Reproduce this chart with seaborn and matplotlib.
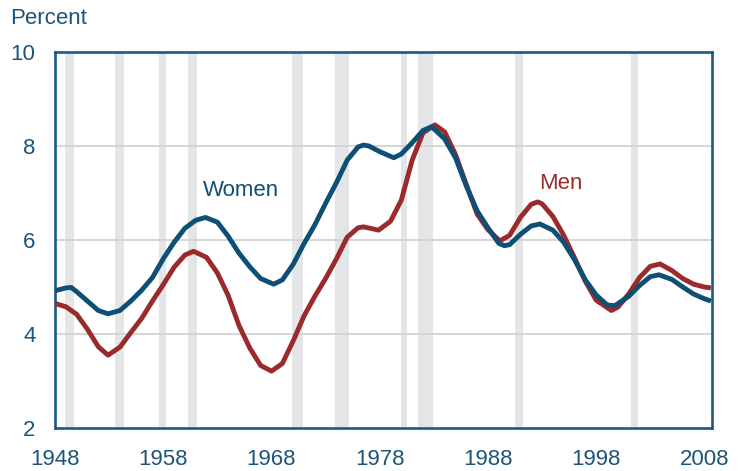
import matplotlib
matplotlib.use("Agg")
import matplotlib.pyplot as plt
import pandas as pd
import seaborn as sns

# Unemployment rate by sex, percent
women_years = [1948, 1949, 1949.5, 1950, 1951, 1952, 1952.9, 1954, 1955, 1956,
               1957, 1958, 1959, 1960, 1961, 1961.9, 1963, 1964, 1965, 1966,
               1967, 1968.2, 1969, 1970, 1971, 1972, 1973, 1974, 1975, 1976,
               1976.5, 1977, 1978, 1979.3, 1980, 1981, 1982, 1982.8, 1984, 1985,
               1986, 1987, 1988, 1989, 1989.5, 1990, 1991, 1992, 1992.8, 1994,
               1995, 1996, 1997, 1998, 1999, 1999.7, 2001, 2002, 2003, 2003.8,
               2005, 2006, 2007, 2008, 2008.6]
women = [4.92, 4.98, 4.99, 4.90, 4.70, 4.50, 4.43, 4.50, 4.70, 4.93,
         5.20, 5.60, 5.95, 6.25, 6.42, 6.48, 6.38, 6.08, 5.72, 5.43,
         5.18, 5.06, 5.15, 5.48, 5.92, 6.32, 6.78, 7.22, 7.70, 7.98,
         8.02, 8.00, 7.88, 7.75, 7.83, 8.07, 8.33, 8.41, 8.15, 7.75,
         7.15, 6.62, 6.26, 5.93, 5.88, 5.90, 6.12, 6.30, 6.34, 6.21,
         5.95, 5.58, 5.15, 4.83, 4.62, 4.60, 4.80, 5.03, 5.22, 5.26,
         5.16, 5.00, 4.85, 4.75, 4.70]

men_years = [1948, 1949, 1950, 1951, 1952, 1952.9, 1954, 1955, 1956, 1957,
             1958, 1959, 1960, 1960.8, 1962, 1963, 1964, 1965, 1966, 1967,
             1968, 1969, 1970, 1971, 1972, 1973, 1974, 1975, 1976, 1976.5,
             1977.9, 1979, 1980, 1981, 1982, 1983.1, 1984, 1985, 1986, 1987,
             1988, 1989.1, 1990, 1991, 1992, 1992.6, 1993, 1994, 1995, 1996,
             1997, 1998, 1999.4, 2000, 2001, 2002, 2003, 2003.9, 2005, 2006,
             2007, 2008, 2008.6]
men = [4.65, 4.58, 4.42, 4.10, 3.73, 3.55, 3.72, 4.03, 4.33, 4.70,
       5.05, 5.42, 5.68, 5.76, 5.63, 5.30, 4.82, 4.18, 3.70, 3.33,
       3.21, 3.37, 3.85, 4.38, 4.80, 5.18, 5.60, 6.06, 6.26, 6.28,
       6.21, 6.40, 6.85, 7.70, 8.28, 8.45, 8.30, 7.82, 7.18, 6.55,
       6.22, 5.98, 6.10, 6.48, 6.76, 6.81, 6.77, 6.50, 6.10, 5.62,
       5.12, 4.72, 4.50, 4.57, 4.85, 5.20, 5.44, 5.49, 5.35, 5.18,
       5.06, 5.00, 4.98]

# NBER recession periods (start, end) in fractional years
recessions = [(1948.9, 1949.8), (1953.5, 1954.4), (1957.6, 1958.3),
              (1960.3, 1961.1), (1969.9, 1970.9), (1973.9, 1975.2),
              (1980.0, 1980.5), (1981.5, 1982.9), (1990.5, 1991.2),
              (2001.2, 2001.9)]

x_ticks = [1948, 1958, 1968, 1978, 1988, 1998, 2008]
y_ticks = [2, 4, 6, 8, 10]

BLUE = "#0e4f75"
RED = "#9b2a2c"
AXIS = "#1b5a84"
TEXT = "#1d5479"
BAND = "#e4e5e7"
GRID = "#d3d3d3"

sns.set_style("white")
plt.rcParams["font.family"] = ["Liberation Sans", "DejaVu Sans"]

df = pd.concat([
    pd.DataFrame({"year": women_years, "rate": women, "group": "Women"}),
    pd.DataFrame({"year": men_years, "rate": men, "group": "Men"}),
], ignore_index=True)

fig = plt.figure(figsize=(7.44, 4.71), dpi=100)
ax = fig.add_axes([55 / 744, 1 - 428 / 471, (712 - 55) / 744, (428 - 52) / 471])

for start, end in recessions:
    ax.axvspan(start, end, color=BAND, lw=0, zorder=0)

for yv in [4, 6, 8]:
    ax.axhline(yv, color=GRID, lw=1.3, zorder=0.5)

sns.lineplot(data=df, x="year", y="rate", hue="group",
             palette={"Women": BLUE, "Men": RED}, hue_order=["Men", "Women"],
             lw=3.5, legend=False, ax=ax, zorder=3, sort=True,
             solid_joinstyle="round", solid_capstyle="butt")

ax.set_xlim(1948, 2008.7)
ax.set_ylim(2, 10)
ax.set_xticks(x_ticks)
ax.set_yticks(y_ticks)
ax.set_xlabel("")
ax.set_ylabel("")

for side in ["left", "bottom", "top", "right"]:
    ax.spines[side].set_visible(True)
    ax.spines[side].set_color(AXIS)
    ax.spines[side].set_linewidth(1.9)

ax.tick_params(axis="x", direction="in", length=6, width=1.8, color=AXIS,
               labelcolor=TEXT, labelsize=16, pad=15)
ax.tick_params(axis="y", direction="in", length=6, width=1.5, color=AXIS,
               labelcolor=TEXT, labelsize=16, pad=14)

ax.text(1965.2, 7.05, "Women", color=BLUE, fontsize=16, ha="center", va="center")
ax.text(1994.7, 7.2, "Men", color=RED, fontsize=16, ha="center", va="center")

fig.text(10 / 744, 1 - 18 / 471, "Percent", color=TEXT, fontsize=16,
         ha="left", va="center")

fig.savefig("out.png", dpi=100)
